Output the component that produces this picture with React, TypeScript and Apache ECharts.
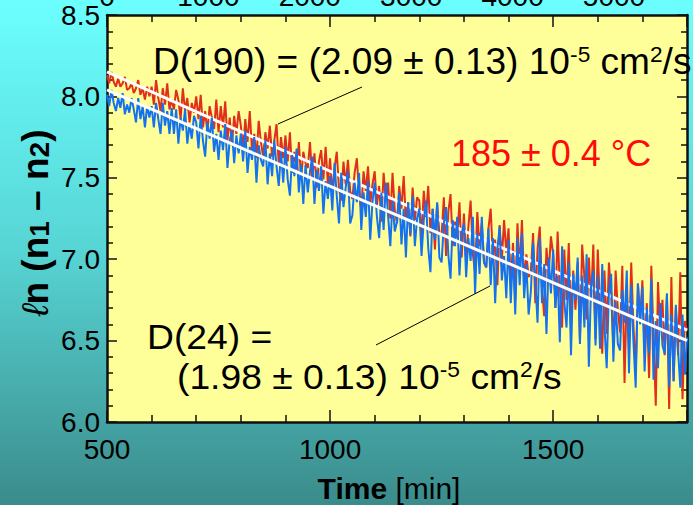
import React, { useEffect, useRef } from 'react';
import * as echarts from 'echarts';

// sampling of the measured traces (minutes)
const T_START = 500;
const T_STEP = 5;

// sample at 190 (red) : ln(n1 - n2)
const RED = [
  8.13, 8.08, 8.15, 8.09, 8.06, 8.11, 8.06, 8.08, 8.12, 8.04,
  8.05, 8.08, 8.02, 8.05, 8.10, 8.01, 8.05, 7.98, 8.06, 8.00,
  8.06, 7.95, 8.10, 7.99, 7.91, 8.05, 7.95, 8.08, 7.92, 7.98,
  7.92, 8.04, 7.98, 7.86, 8.05, 7.91, 7.99, 7.84, 7.96, 7.90,
  8.00, 7.86, 8.01, 7.81, 7.91, 7.78, 7.94, 7.87, 7.80, 7.98,
  7.78, 7.94, 7.81, 7.97, 7.73, 7.87, 7.70, 7.88, 7.77, 7.91,
  7.82, 7.68, 7.86, 7.72, 7.91, 7.67, 7.77, 7.62, 7.85, 7.72,
  7.63, 7.78, 7.68, 7.82, 7.63, 7.73, 7.83, 7.58, 7.75, 7.62,
  7.76, 7.60, 7.78, 7.53, 7.66, 7.55, 7.72, 7.49, 7.66, 7.59,
  7.56, 7.72, 7.49, 7.65, 7.44, 7.60, 7.67, 7.49, 7.69, 7.46,
  7.62, 7.40, 7.56, 7.66, 7.43, 7.36, 7.60, 7.46, 7.61, 7.42,
  7.37, 7.53, 7.62, 7.41, 7.30, 7.54, 7.42, 7.57, 7.34, 7.46,
  7.54, 7.33, 7.45, 7.23, 7.53, 7.36, 7.47, 7.25, 7.53, 7.30,
  7.22, 7.45, 7.31, 7.51, 7.24, 7.35, 7.14, 7.44, 7.24, 7.38,
  7.36, 7.13, 7.42, 7.26, 7.45, 7.16, 7.31, 7.06, 7.34, 7.16,
  7.15, 7.38, 7.02, 7.29, 7.40, 7.08, 7.23, 7.13, 7.35, 7.01,
  7.28, 6.99, 7.20, 7.36, 7.03, 6.92, 7.29, 7.08, 7.22, 6.98,
  6.95, 7.19, 7.31, 7.00, 7.12, 6.84, 7.21, 7.00, 7.24, 7.04,
  7.19, 6.85, 7.10, 6.75, 7.22, 6.93, 7.24, 6.86, 7.03, 6.89,
  6.93, 7.16, 6.73, 7.06, 7.20, 6.82, 6.65, 7.07, 6.91, 7.14,
  7.03, 6.70, 7.17, 6.83, 6.58, 7.06, 6.75, 7.10, 6.61, 6.93,
  6.69, 6.98, 6.51, 7.09, 6.89, 6.63, 7.01, 6.74, 7.09, 6.51,
  7.06, 6.70, 6.42, 6.93, 6.54, 6.98, 6.79, 6.46, 6.93, 6.69,
  6.55, 6.96, 6.24, 6.81, 6.44, 6.98, 6.59, 6.30, 6.85, 6.64,
  6.87, 6.42, 6.73, 6.27, 6.96, 6.52, 6.10, 6.86, 6.56, 6.75,
  6.41, 6.78, 6.08, 6.89, 6.25, 6.70, 6.41, 6.92, 6.14, 6.62,
  6.56,
];

// sample at 24 (blue) : ln(n1 - n2)
const BLUE = [
  8.01, 7.94, 8.04, 7.96, 7.91, 7.99, 7.93, 8.02, 7.89, 7.95,
  7.90, 7.99, 7.92, 7.84, 7.99, 7.86, 7.94, 7.81, 7.94, 7.87,
  7.94, 7.81, 7.96, 7.86, 7.77, 7.96, 7.82, 7.91, 7.77, 7.93,
  7.77, 7.92, 7.71, 7.87, 7.79, 7.92, 7.71, 7.83, 7.74, 7.88,
  7.84, 7.68, 7.88, 7.73, 7.63, 7.84, 7.74, 7.87, 7.66, 7.77,
  7.61, 7.79, 7.67, 7.83, 7.56, 7.73, 7.79, 7.59, 7.76, 7.65,
  7.77, 7.60, 7.79, 7.53, 7.69, 7.61, 7.75, 7.47, 7.70, 7.61,
  7.57, 7.73, 7.46, 7.65, 7.51, 7.73, 7.57, 7.45, 7.66, 7.47,
  7.69, 7.49, 7.39, 7.64, 7.51, 7.68, 7.41, 7.58, 7.34, 7.58,
  7.41, 7.54, 7.63, 7.34, 7.55, 7.42, 7.57, 7.28, 7.48, 7.37,
  7.51, 7.30, 7.59, 7.39, 7.22, 7.53, 7.32, 7.44, 7.54, 7.22,
  7.27, 7.47, 7.35, 7.53, 7.18, 7.41, 7.26, 7.48, 7.12, 7.35,
  7.47, 7.26, 7.13, 7.41, 7.18, 7.47, 7.27, 7.08, 7.36, 7.17,
  7.23, 7.41, 7.09, 7.31, 7.01, 7.35, 7.15, 7.39, 7.08, 7.25,
  7.31, 7.02, 7.24, 7.36, 7.07, 6.92, 7.31, 7.12, 7.35, 7.01,
  6.98, 7.22, 7.32, 7.03, 6.88, 7.24, 7.08, 7.26, 6.90, 7.16,
  7.22, 6.89, 7.13, 6.99, 7.26, 6.79, 7.16, 6.91, 7.26, 6.98,
  6.95, 7.19, 6.84, 7.13, 6.73, 7.06, 7.20, 6.87, 7.02, 6.76,
  7.12, 6.73, 7.04, 6.66, 7.13, 6.84, 7.16, 6.76, 6.97, 6.66,
  6.80, 7.10, 6.87, 6.61, 7.13, 6.73, 6.97, 6.54, 7.01, 6.79,
  7.06, 6.70, 6.90, 6.49, 7.08, 6.74, 6.58, 6.98, 6.41, 6.91,
  6.75, 7.01, 6.48, 6.90, 6.58, 7.03, 6.34, 6.84, 6.93, 6.47,
  6.90, 6.45, 6.97, 6.59, 6.33, 6.80, 6.91, 6.37, 6.74, 6.48,
  6.44, 6.81, 6.61, 6.93, 6.30, 6.84, 6.49, 6.21, 6.85, 6.60,
  6.83, 6.31, 6.70, 6.42, 6.88, 6.26, 6.62, 6.33, 6.73, 6.47,
  6.42, 6.79, 6.22, 6.66, 6.25, 6.72, 6.44, 6.21, 6.66, 6.29,
  6.52,
];

// fitted straight lines (white)
const RED_FIT = [[500, 8.15], [1800, 6.564]];
const BLUE_FIT = [[500, 8.04], [1800, 6.5]];

// axes
const X_MIN = 500, X_MAX = 1800, X_INTERVAL = 500;
const TOP_MIN = 0, TOP_MAX = 5720, TOP_INTERVAL = 1000;
const Y_MIN = 6, Y_MAX = 8.5, Y_INTERVAL = 0.5;

const FONT = '"Liberation Sans", Arial, Helvetica, sans-serif';

export default function App() {
  const ref = useRef<HTMLDivElement>(null);

  useEffect(() => {
    const chart = echarts.init(ref.current as HTMLDivElement, null, { renderer: 'svg' });

    const toPairs = (arr: number[]) => arr.map((v, i) => [T_START + i * T_STEP, v]);

    const axisLine = { show: true, onZero: false, lineStyle: { color: '#111', width: 2.5 } };
    const tick = (len: number) => ({ show: true, inside: true, length: len, lineStyle: { color: '#111', width: 1.5 } });
    const minor = (len: number) => ({ show: true, splitNumber: 5, length: len, lineStyle: { color: '#111', width: 1.5 } });
    const label = (margin: number) => ({ fontSize: 28, color: '#000', fontFamily: FONT, margin });
    const plain = (v: number) => String(v);

    const sup = { fontSize: 22, lineHeight: 22, verticalAlign: 'top', fontFamily: FONT, fill: '#000' };
    const big = { fontSize: 36, lineHeight: 36, fontFamily: FONT, fill: '#000' };

    chart.setOption({
      animation: false,
      backgroundColor: new echarts.graphic.LinearGradient(0, 0, 0, 1, [
        { offset: 0, color: '#6CFFFF' },
        { offset: 0.5, color: '#57D4D4' },
        { offset: 1, color: '#3B8B8B' },
      ]),
      grid: {
        left: 107, right: 6, top: 15, bottom: 83,
        show: true, backgroundColor: '#FFFF99', borderWidth: 0,
        outerBoundsMode: 'none',
      },
      xAxis: [
        {
          type: 'value', position: 'bottom', min: X_MIN, max: X_MAX, interval: X_INTERVAL,
          axisLine, axisTick: tick(12), minorTick: minor(7), splitLine: { show: false }, minorSplitLine: { show: false },
          axisLabel: { ...label(13), showMaxLabel: false, formatter: plain },
        },
        {
          type: 'value', position: 'top', min: X_MIN, max: X_MAX, interval: X_INTERVAL,
          axisLine, axisTick: tick(12), minorTick: minor(7), splitLine: { show: false },
          axisLabel: { show: false },
        },
        {
          type: 'value', position: 'top', min: TOP_MIN, max: TOP_MAX, interval: TOP_INTERVAL,
          axisLine: { show: false }, axisTick: { show: false }, splitLine: { show: false },
          axisLabel: { ...label(5), showMaxLabel: false, formatter: plain },
        },
      ],
      yAxis: [
        {
          type: 'value', position: 'left', min: Y_MIN, max: Y_MAX, interval: Y_INTERVAL,
          axisLine, axisTick: tick(10), minorTick: minor(6), splitLine: { show: false },
          axisLabel: { ...label(7), padding: [6, 0, 0, 0], formatter: (v: number) => v.toFixed(1) },
        },
        {
          type: 'value', position: 'right', min: Y_MIN, max: Y_MAX, interval: Y_INTERVAL,
          axisLine, axisTick: tick(10), minorTick: minor(6), splitLine: { show: false },
          axisLabel: { show: false },
        },
      ],
      series: [
        {
          type: 'line', name: 'D(190)', data: toPairs(RED), showSymbol: false, symbol: 'none',
          lineStyle: { color: '#E0301C', width: 2 }, xAxisIndex: 0, yAxisIndex: 0,
        },
        {
          type: 'line', name: 'fit 190', data: RED_FIT, showSymbol: false, symbol: 'none',
          lineStyle: { color: '#FFFFFF', width: 3 }, xAxisIndex: 0, yAxisIndex: 0,
        },
        {
          type: 'line', name: 'D(24)', data: toPairs(BLUE), showSymbol: false, symbol: 'none',
          lineStyle: { color: '#1472F0', width: 2 }, xAxisIndex: 0, yAxisIndex: 0,
        },
        {
          type: 'line', name: 'fit 24', data: BLUE_FIT, showSymbol: false, symbol: 'none',
          lineStyle: { color: '#FFFFFF', width: 3 }, xAxisIndex: 0, yAxisIndex: 0,
        },
      ],
      graphic: [
        {
          type: 'text', x: 153, y: 62, z: 100, scaleX: 1.03,
          style: {
            text: 'D(190) = (2.09 ± 0.13) 10{s|-5} cm{s|2}/s',
            ...big, align: 'left', verticalAlign: 'middle',
            rich: { s: sup },
          },
        },
        {
          type: 'text', x: 451, y: 153, z: 100,
          style: { text: '185 ± 0.4 °C', fontSize: 36, fontFamily: FONT, fill: '#FF0A0A', align: 'left', verticalAlign: 'middle' },
        },
        {
          type: 'text', x: 147, y: 337, z: 100, scaleX: 1.035,
          style: { text: 'D(24) =', ...big, align: 'left', verticalAlign: 'middle' },
        },
        {
          type: 'text', x: 177, y: 377, z: 100, scaleX: 1.035,
          style: {
            text: '(1.98 ± 0.13) 10{s|-5} cm{s|2}/s',
            ...big, align: 'left', verticalAlign: 'middle',
            rich: { s: sup },
          },
        },
        { type: 'line', z: 100, shape: { x1: 362, y1: 87, x2: 278, y2: 124 }, style: { stroke: '#000', lineWidth: 1 } },
        { type: 'line', z: 100, shape: { x1: 376, y1: 345, x2: 490, y2: 286 }, style: { stroke: '#000', lineWidth: 1 } },
        {
          type: 'text', x: 35, y: 223, rotation: Math.PI / 2, z: 100,
          style: {
            text: '{l|ℓ}n (n{b|1} – n{b|2})',
            fontSize: 37, lineHeight: 37, fontWeight: 'bold', fontFamily: FONT, fill: '#000',
            align: 'center', verticalAlign: 'middle',
            rich: {
              l: { fontSize: 37, lineHeight: 37, fontWeight: 'normal', fontStyle: 'italic', fontFamily: FONT, fill: '#000' },
              b: { fontSize: 28, lineHeight: 24, fontWeight: 'bold', verticalAlign: 'bottom', fontFamily: FONT, fill: '#000' },
            },
          },
        },
        {
          type: 'text', x: 389, y: 488, z: 100,
          style: {
            text: '{t|Time} [min]',
            fontSize: 30, lineHeight: 30, fontFamily: FONT, fill: '#000',
            align: 'center', verticalAlign: 'middle',
            rich: { t: { fontSize: 30, lineHeight: 30, fontWeight: 'bold', fontFamily: FONT, fill: '#000' } },
          },
        },
      ],
    });

    return () => chart.dispose();
  }, []);

  return <div ref={ref} style={{ position: 'fixed', left: 0, top: 0, width: 693, height: 505 }} />;
}
